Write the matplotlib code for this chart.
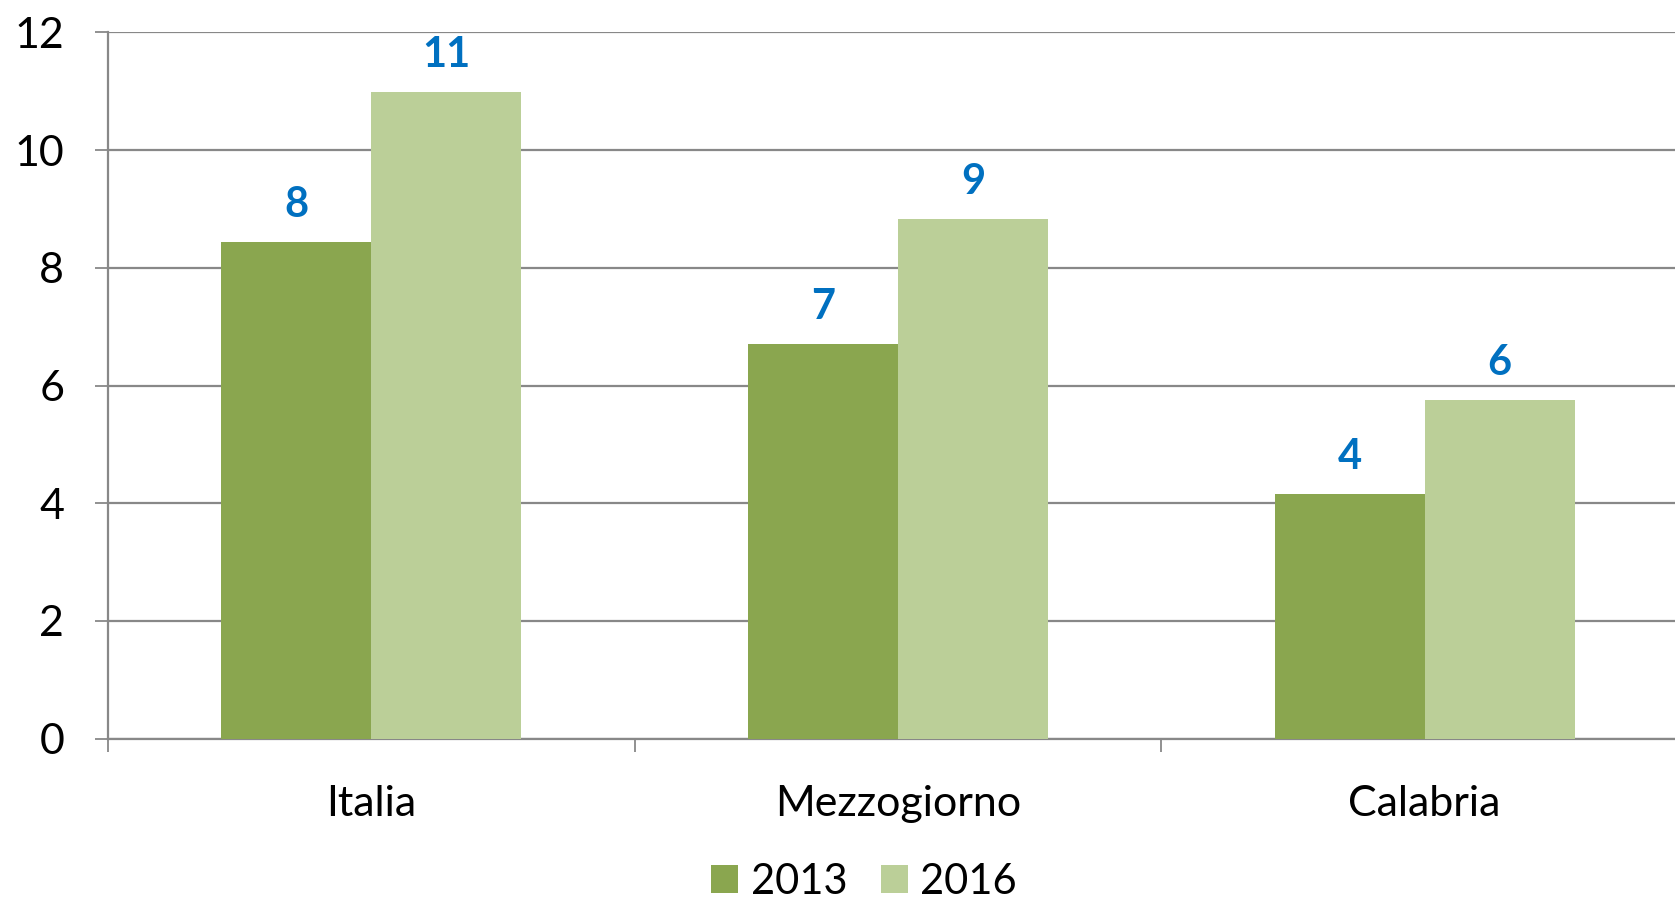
import matplotlib
matplotlib.use("Agg")
import matplotlib.pyplot as plt
import numpy as np

categories = ["Italia", "Mezzogiorno", "Calabria"]
series_names = ["2013", "2016"]
values_2013 = [8.44, 6.70, 4.15]
values_2016 = [10.99, 8.83, 5.76]
yticks = [0, 2, 4, 6, 8, 10, 12]

colors = ["#8AA64F", "#BBCF98"]
label_color = "#0070C0"
grid_color = "#888888"

plt.rcParams['font.family'] = ['Lato', 'DejaVu Sans']

W, H = 1675, 899
fig = plt.figure(figsize=(W / 100, H / 100), dpi=100)
left, right, bottom, top = 108, 1688, 738.7, 32.3
ax = fig.add_axes([left / W, (H - bottom) / H, (right - left) / W, (bottom - top) / H])

x = np.arange(len(categories))
w = 0.285
b1 = ax.bar(x - w / 2, values_2013, width=w, color=colors[0], label=series_names[0], zorder=3)
b2 = ax.bar(x + w / 2, values_2016, width=w, color=colors[1], label=series_names[1], zorder=3)

for cont, vals in ((b1, values_2013), (b2, values_2016)):
    ax.bar_label(cont, labels=[f"{v:.0f}" for v in vals], padding=13,
                 color=label_color, fontsize=30, fontweight='bold')

ax.set_xlim(-0.5, 2.5)
ax.set_ylim(0, 12)
ax.set_yticks(yticks)
ax.set_yticklabels([str(t) for t in yticks], fontsize=31)
ax.yaxis.grid(True, color=grid_color, linewidth=1.6, zorder=0)
ax.set_axisbelow(True)

ax.set_xticks([-0.5, 0.5, 1.5, 2.5])
ax.set_xticklabels([])
ax.set_xticks(x, minor=True)
ax.set_xticklabels(categories, minor=True, fontsize=31)
ax.tick_params(axis='x', which='major', length=9.5, width=1.3, color=grid_color, direction='out')
ax.tick_params(axis='x', which='minor', length=0, pad=33)
ax.tick_params(axis='y', length=9.5, width=1.3, color=grid_color, pad=22)

for s in ('top', 'right'):
    ax.spines[s].set_visible(False)
for s in ('left', 'bottom'):
    ax.spines[s].set_color(grid_color)
    ax.spines[s].set_linewidth(1.6)

fig.legend(handles=[b1, b2], labels=series_names, loc='center',
           bbox_to_anchor=(864 / W, 1 - 882 / H), ncol=2, frameon=False,
           fontsize=30, handlelength=0.65, handleheight=0.65, handletextpad=0.3,
           columnspacing=0.8)

fig.savefig("out.png", dpi=100)
